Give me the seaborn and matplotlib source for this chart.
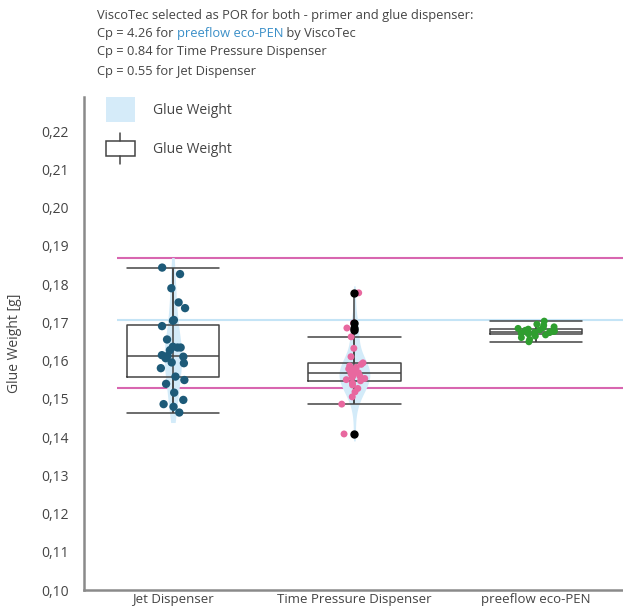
import numpy as np
import pandas as pd
import matplotlib
matplotlib.use('Agg')
import matplotlib.pyplot as plt
import seaborn as sns
from matplotlib.patches import Patch, Rectangle
from matplotlib.lines import Line2D
from matplotlib.legend_handler import HandlerBase
from matplotlib.ticker import FuncFormatter

# Datos (peso de pegamento en g)
categorias = ['Jet Dispenser', 'Time Pressure Dispenser', 'preeflow eco-PEN']
jet = [0.1843, 0.1826, 0.1789, 0.1752, 0.1737, 0.1706, 0.1704, 0.1690, 0.1655,
       0.1636, 0.1634, 0.1634, 0.1627, 0.1614, 0.1612, 0.1610, 0.1606, 0.1595,
       0.1593, 0.1580, 0.1558, 0.1549, 0.1539, 0.1516, 0.1497, 0.1486, 0.1479, 0.1464]
tpd = [0.1777, 0.1698, 0.1685, 0.1680, 0.1662, 0.1632, 0.1610, 0.1594, 0.1590,
       0.1586, 0.1582, 0.1578, 0.1575, 0.1571, 0.1568, 0.1565, 0.1562, 0.1559,
       0.1556, 0.1553, 0.1550, 0.1547, 0.1541, 0.1536, 0.1527, 0.1518, 0.1505,
       0.1486, 0.1408]
eco = [0.1703, 0.1695, 0.1692, 0.1688, 0.1686, 0.1684, 0.1682, 0.1680, 0.1679,
       0.1677, 0.1676, 0.1675, 0.1674, 0.1673, 0.1671, 0.1670, 0.1669, 0.1667,
       0.1664, 0.1660, 0.1655, 0.1649]
limites_spec = [0.1527, 0.1867]
objetivo = 0.1705
y_ticks = [0.10, 0.11, 0.12, 0.13, 0.14, 0.15, 0.16, 0.17, 0.18, 0.19, 0.20, 0.21, 0.22]

titulo = ["ViscoTec selected as POR for both - primer and glue dispenser:",
          "Cp = 4.26 for ", "preeflow eco-PEN", " by ViscoTec",
          "Cp = 0.84 for Time Pressure Dispenser",
          "Cp = 0.55 for Jet Dispenser"]

colores = {
    'Jet Dispenser': '#1d5a78',
    'Time Pressure Dispenser': '#e8689f',
    'preeflow eco-PEN': '#2f9e2f',
}
gris = '#444444'

df = pd.DataFrame({
    'grupo': [categorias[0]] * len(jet) + [categorias[1]] * len(tpd) + [categorias[2]] * len(eco),
    'peso': jet + tpd + eco,
})

sns.set_style('white')
plt.rcParams['font.family'] = ['Open Sans', 'DejaVu Sans']


class HandlerCaja(HandlerBase):
    # Dibuja el símbolo de caja con bigotes para la leyenda
    def create_artists(self, legend, orig_handle, xdescent, ydescent, width, height, fontsize, trans):
        x0 = -xdescent
        y0 = -ydescent
        h = height * 0.58
        yb = y0 + (height - h) / 2
        cx = x0 + width / 2
        caja = Rectangle((x0, yb), width, h, facecolor='white', edgecolor=gris, lw=1.1, transform=trans)
        arriba = Line2D([cx, cx], [yb + h, y0 + height + 2], color=gris, lw=1.1, transform=trans)
        abajo = Line2D([cx, cx], [y0 - 2, yb], color=gris, lw=1.1, transform=trans)
        return [caja, arriba, abajo]


fig = plt.figure(figsize=(6.23, 6.08), dpi=100)
ax = fig.add_axes([84 / 623, 1 - 590 / 608, 539 / 623, 493 / 608])

# Líneas de especificación y objetivo
ax.hlines(limites_spec, -0.31, 2.48, color='#d866b0', lw=1.5, zorder=1)
ax.hlines(objetivo, -0.31, 2.48, color='#c4e4f6', lw=1.5, zorder=1)

# Densidad tenue detrás de los puntos
df_v = df[df['grupo'] != categorias[2]]
sns.violinplot(data=df_v, x='grupo', y='peso', order=categorias, color='#d3ebf9',
               saturation=1, linewidth=0, inner=None, width=0.17, cut=0.5, ax=ax, zorder=1.5)

n_lineas = len(ax.lines)
sns.boxplot(data=df, x='grupo', y='peso', order=categorias, width=0.51, fill=False,
            color=gris, linewidth=1.1, whis=1.5, capwidths=0.51,
            flierprops=dict(marker='o', markerfacecolor='black', markeredgecolor='black', markersize=5),
            ax=ax, zorder=2)
for ln in ax.lines[n_lineas:]:
    if ln.get_marker() not in (None, 'None', ''):
        ln.set_zorder(5)

# Línea vertical de rango por grupo
for i, vals in enumerate([jet, tpd, eco]):
    v = np.array(vals)
    q1, q3 = np.percentile(v, [25, 75])
    lo = v[v >= q1 - 1.5 * (q3 - q1)].min()
    ax.vlines(i, lo, v.max(), color=gris, lw=1.1, zorder=2.5)

# Puntos individuales por grupo
np.random.seed(7)
for cat, tam, jit in zip(categorias, [6, 5, 5], [0.07, 0.07, 0.11]):
    sns.stripplot(data=df[df['grupo'] == cat], x='grupo', y='peso', order=categorias,
                  hue='grupo', palette=colores, jitter=jit, size=tam, linewidth=0,
                  legend=False, ax=ax, zorder=3)

ax.set_xlim(-0.49, 2.48)
ax.set_ylim(0.10, 0.2289)
ax.set_yticks(y_ticks)
ax.yaxis.set_major_formatter(FuncFormatter(lambda v, p: f"{v:.2f}".replace('.', ',')))
ax.set_yticks([0.10], minor=True)
ax.tick_params(axis='both', which='major', length=0, labelcolor=gris)
ax.tick_params(axis='y', which='major', labelsize=10, pad=11)
ax.tick_params(axis='x', which='major', labelsize=9.5, pad=2)
ax.tick_params(axis='y', which='minor', length=6, width=1.5, color='#8a8a8a', left=True)
ax.set_xlabel('')
ax.set_ylabel('Glue Weight [g]', fontsize=10, color=gris)
ax.yaxis.set_label_coords(-0.115, 0.5)

sns.despine(ax=ax, top=True, right=True)
for lado in ['left', 'bottom']:
    ax.spines[lado].set_color('#8a8a8a')
    ax.spines[lado].set_linewidth(1.8)

# Leyenda
dummy = Rectangle((0, 0), 1, 1)
handles = [Patch(facecolor='#d5ebf9', edgecolor='none'), dummy]
ax.legend(handles, ['Glue Weight', 'Glue Weight'], handler_map={dummy: HandlerCaja()},
          loc='upper left', bbox_to_anchor=(0.04, 1.0), borderaxespad=0, borderpad=0,
          frameon=False, fontsize=10, handlelength=2.1, handleheight=2.4,
          labelspacing=1.0, handletextpad=1.35, labelcolor=gris)

# Texto superior con parte en azul
x_t = 97 / 623
fs_t = 9.3
fig.text(x_t, 1 - 15 / 608, titulo[0], fontsize=fs_t, color=gris, va='center')
t1 = fig.text(x_t, 1 - 33 / 608, titulo[1], fontsize=fs_t, color=gris, va='center')
t2 = ax.annotate(titulo[2], xy=(1, 0), xycoords=t1, va='bottom', ha='left',
                 fontsize=fs_t, color='#3a8fc8', annotation_clip=False)
ax.annotate(titulo[3], xy=(1, 0), xycoords=t2, va='bottom', ha='left',
            fontsize=fs_t, color=gris, annotation_clip=False)
fig.text(x_t, 1 - 52 / 608, titulo[4], fontsize=fs_t, color=gris, va='center')
fig.text(x_t, 1 - 71 / 608, titulo[5], fontsize=fs_t, color=gris, va='center')

fig.savefig('out.png', dpi=100)
plt.close()
